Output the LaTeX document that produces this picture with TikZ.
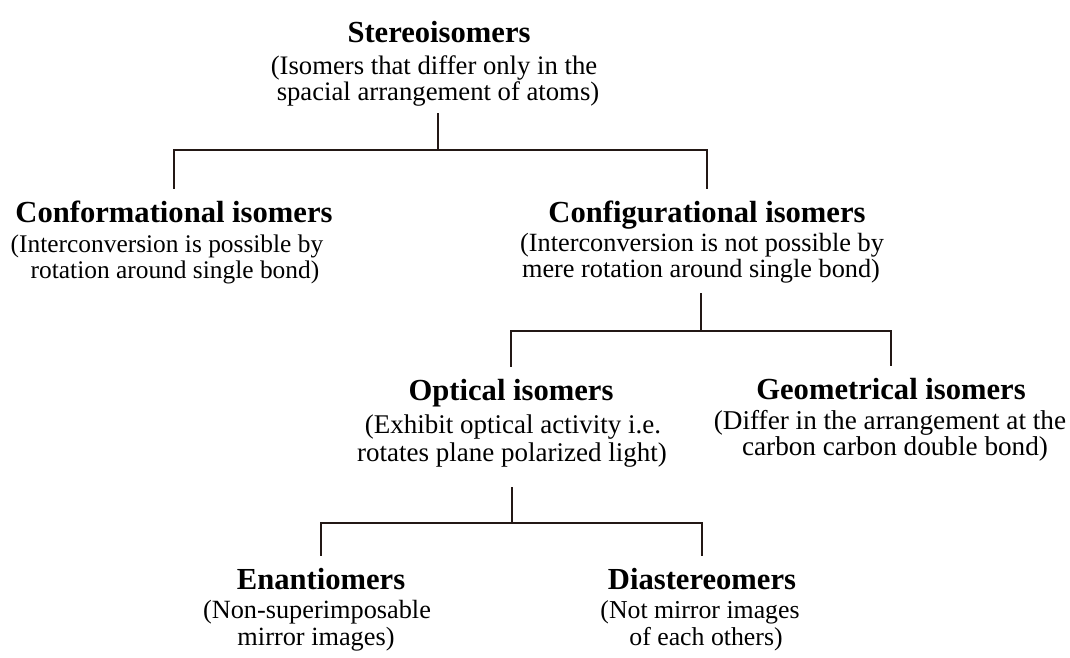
\documentclass[tikz,border=0pt]{standalone}
\usepackage{fontspec}
\setmainfont{Liberation Serif}
\definecolor{linec}{RGB}{35,24,21}
\begin{document}
\begin{tikzpicture}[x=1pt,y=-1pt,
  ttl/.style={anchor=base,inner xsep=0pt,inner ysep=11pt,text height=22pt,text depth=7pt,font=\fontsize{30.6}{32}\selectfont\bfseries},
  sub/.style={anchor=base,inner xsep=0pt,inner ysep=7pt,text height=19pt,text depth=6pt,font=\fontsize{#1}{#1}\selectfont},
  conn/.style={draw=linec,line width=2pt}]
\useasboundingbox[fill=white] (0,0) rectangle (1070,657);
% level 0
\node[ttl] (stereo) at (439,42) {Stereoisomers};
\node[sub=26.7] (st1) at (434,74) {(Isomers that differ only in the};
\node[sub=26.7] (st2) at (438,100) {spacial arrangement of atoms)};
% level 1
\node[ttl] (conf) at (174,222) {Conformational isomers};
\node[sub=25.4] (cf1) at (167,252) {(Interconversion is possible by};
\node[sub=25.4] (cf2) at (175,278) {rotation around single bond)};
\node[ttl] (config) at (707,222) {Configurational isomers};
\node[sub=26.3] (cg1) at (702,251) {(Interconversion is not possible by};
\node[sub=26.3] (cg2) at (701,277) {mere rotation around single bond)};
% level 2
\node[ttl] (opt) at (511,400) {Optical isomers};
\node[sub=27] (op1) at (513,433) {(Exhibit optical activity i.e.};
\node[sub=27] (op2) at (512,461) {rotates plane polarized light)};
\node[ttl] (geo) at (891,399) {Geometrical isomers};
\node[sub=27.2] (ge1) at (890,429) {(Differ in the arrangement at the};
\node[sub=27.2] (ge2) at (895,455) {carbon carbon double bond)};
% level 3
\node[ttl] (ena) at (321,589) {Enantiomers};
\node[sub=26.3] (en1) at (317,618) {(Non-superimposable};
\node[sub=26.3] (en2) at (316,645) {mirror images)};
\node[ttl] (dia) at (702,589) {Diastereomers};
\node[sub=25.8] (di1) at (700,618) {(Not mirror images};
\node[sub=25.8] (di2) at (706,645) {of each others)};
% bar levels
\coordinate (y1) at (0,150);
\coordinate (y2) at (0,331);
\coordinate (y3) at (0,523);
\coordinate (j1) at (st2.south |- y1);
\coordinate (j2) at (cg2.south |- y2);
\coordinate (j3) at (op2.south |- y3);
% connectors
\draw[conn] (st2.south) -- (j1);
\draw[conn] (conf.north) |- (j1) -| (config.north);
\draw[conn,shorten <=3pt] (cg2.south) -- (j2);
\draw[conn] (opt.north) |- (j2) -| (geo.north);
\draw[conn,shorten <=13pt] (op2.south) -- (j3);
\draw[conn] (ena.north) |- (j3) -| (dia.north);
\end{tikzpicture}
\end{document}
